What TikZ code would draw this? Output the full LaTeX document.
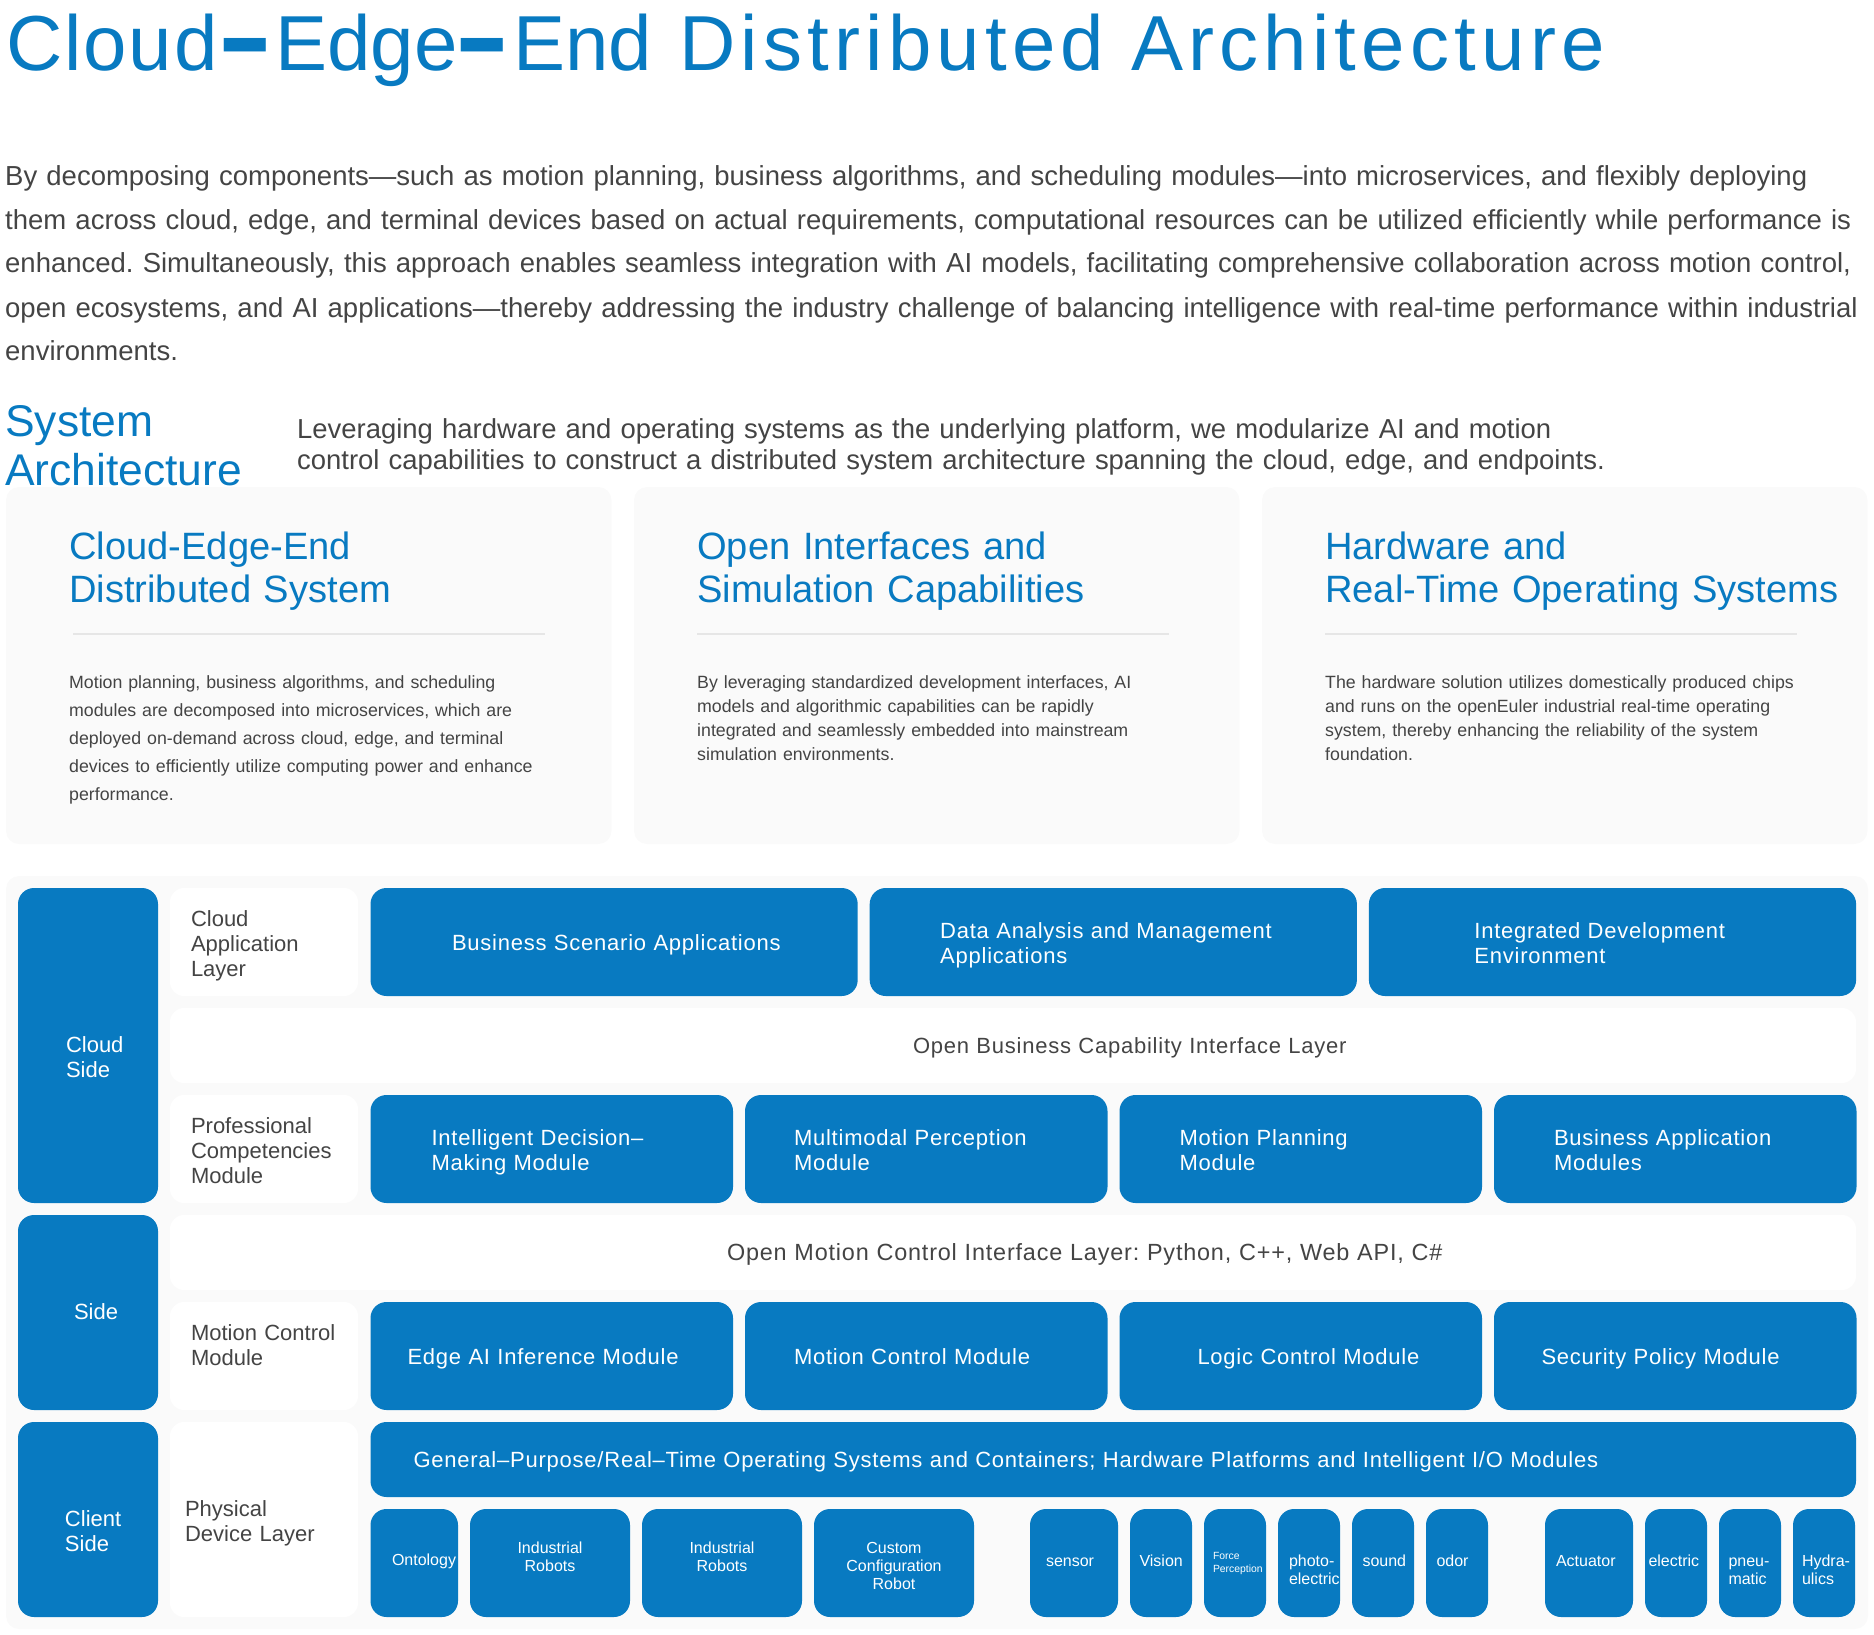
\documentclass[tikz,border=0pt]{standalone}
\usepackage{fontspec}
\setmainfont{Liberation Sans}
\newfontfamily\spacedfont[LetterSpace=6.7]{Liberation Sans}
\newfontfamily\closefont[LetterSpace=2.5]{Liberation Sans}
\newfontfamily\tierfont[LetterSpace=3.5]{Liberation Sans}
\newfontfamily\dashfont{DejaVu Sans}
\usetikzlibrary{positioning}
\AtBeginDocument{\frenchspacing}
\definecolor{tierblue}{HTML}{087AC1}
\definecolor{bodygrey}{HTML}{444444}
\definecolor{cardgrey}{HTML}{FAFAFA}
\definecolor{rulegrey}{HTML}{E6E6E6}
\newcommand{\titledash}{\raisebox{-3.5pt}{\dashfont\bfseries\fontsize{107}{107}\selectfont –}}
\tikzset{tx/.style 2 args={execute at begin node={\rule{0pt}{#1pt}},
execute at end node={\rule[-#2pt]{0pt}{#2pt}}}}
\tikzset{pad/.style={execute at begin node={\leftskip=#1pt\relax}}}
\tikzset{para/.style={anchor=base west,inner sep=0pt,text width=1868pt,align=left,text=bodygrey}}
\tikzset{card/.style={rectangle,fill=cardgrey,rounded corners=13pt,anchor=north west,outer sep=0pt,
inner sep=0pt,minimum height=357pt,minimum width=605.5pt}}
\tikzset{cardhead/.style={para,text width=560pt,text=tierblue,font=\fontsize{38.1}{43}\selectfont}}
\tikzset{cardtext/.style={para,text width=530pt,font=\fontsize{17.75}{28}\selectfont}}
\tikzset{cardrule/.style={draw=rulegrey,line width=1.6pt}}
\tikzset{tierlabel/.style={rectangle,fill=white,rounded corners=14pt,anchor=north west,inner sep=0pt,outer sep=0pt,
align=left,text=bodygrey,font=\fontsize{22}{25}\selectfont}}
\tikzset{tier/.style={tierlabel,fill=tierblue,text=white,rounded corners=16pt}}
\tikzset{sidebox/.style={tier,text width=140pt}}
\tikzset{leftbox/.style={tierlabel,text width=188pt}}
\tikzset{wide/.style={tierlabel,text width=1686pt,minimum height=75pt,font=\tierfont\fontsize{22}{25}\selectfont}}
\tikzset{top/.style={tier,text width=487.2pt,minimum height=108pt,font=\tierfont\fontsize{22}{25}\selectfont}}
\tikzset{mid/.style={tier,text width=362.5pt,minimum height=108pt,font=\tierfont\fontsize{22}{25}\selectfont}}
\tikzset{tiny/.style={tier,minimum height=108pt,font=\fontsize{16}{18}\selectfont}}
\tikzset{tinyc/.style={tiny,text width=160pt,align=center}}
\tikzset{tinys/.style={tiny,text width=62pt}}

\begin{document}
\begin{tikzpicture}[x=1pt,y=-1pt]
    \useasboundingbox (0,0) rectangle (1874,1635);

    \node[anchor=base west,inner sep=0pt,text=tierblue,font=\fontsize{78}{90}\selectfont] (title) at (6,71)
        {{\closefont Cloud}\hspace{1pt}\titledash\hspace{3pt}Edge\hspace{-1.5pt}\titledash\hspace{4pt}End\hspace{27pt}{\spacedfont Distributed Architecture}};
    \node[para,font=\fontsize{27.5}{44}\selectfont] (intro) at (5,185)
        {By decomposing components—such as motion planning, business algorithms, and scheduling modules—into microservices, and flexibly deploying\\
        them across cloud, edge, and terminal devices based on actual requirements, computational resources can be utilized efficiently while performance is\\
        enhanced. Simultaneously, this approach enables seamless integration with AI models, facilitating comprehensive collaboration across motion control,\\
        open ecosystems, and AI applications—thereby addressing the industry challenge of balancing intelligence with real-time performance within industrial\\
        environments.};
    \node[para,text width=280pt,text=tierblue,font=\fontsize{44.4}{49}\selectfont] (syshead) at (5,436) {System\\Architecture};
    \node[para,text width=1500pt,font=\fontsize{27.45}{31}\selectfont] (sysdesc) at (297,438.5)
        {Leveraging hardware and operating systems as the underlying platform, we modularize AI and motion\\
        control capabilities to construct a distributed system architecture spanning the cloud, edge, and endpoints.};

    % three cards
    \node[card] (cardA) at (6,487) {};
    \node[card] (cardB) [right=22.5pt of cardA] {};
    \node[card] (cardC) [right=22.5pt of cardB] {};
    \node[cardhead] (headA) at (69,559) {Cloud-Edge-End\\Distributed System};
    \node[cardhead] (headB) at (697,559) {Open Interfaces and\\Simulation Capabilities};
    \node[cardhead] (headC) at (1325,559) {Hardware and\\Real-Time Operating Systems};
    \draw[cardrule] (73,634) -- (545,634);
    \draw[cardrule] (697,634) -- (1169,634);
    \draw[cardrule] (1325,634) -- (1797,634);
    \node[cardtext] (textA) at (69,688) {Motion planning, business algorithms, and scheduling\\
        modules are decomposed into microservices, which are\\
        deployed on-demand across cloud, edge, and terminal\\
        devices to efficiently utilize computing power and enhance\\
        performance.};
    \node[cardtext,font=\fontsize{17.75}{24}\selectfont] (textB) at (697,688) {By leveraging standardized development interfaces, AI\\
        models and algorithmic capabilities can be rapidly\\
        integrated and seamlessly embedded into mainstream\\
        simulation environments.};
    \node[cardtext,font=\fontsize{17.75}{24}\selectfont] (textC) at (1325,688) {The hardware solution utilizes domestically produced chips\\
        and runs on the openEuler industrial real-time operating\\
        system, thereby enhancing the reliability of the system\\
        foundation.};

    % architecture panel
    \node[card,minimum width=1862pt,minimum height=753pt,fill=cardgrey] (panel) at (6,876) {};

    \node[sidebox,minimum height=315pt,tx={164}{126},pad=48] (cloudside) at (18,888) {Cloud\\Side};
    \node[sidebox,minimum height=195pt,tx={104}{91},pad=56] (edgeside) at (18,1215) {Side};
    \node[sidebox,minimum height=195pt,tx={104}{66},pad=47] (clientside) at (18,1422) {Client\\Side};

    \node[leftbox,minimum height=108pt,tx={38}{20},pad=21] (cloudlayer) at (170,888) {Cloud\\Application\\Layer};
    \node[top,tx={62}{46},pad=81.5] (bizscene) [right=12.5pt of cloudlayer] {Business Scenario Applications};
    \node[top,tx={50}{33},pad=70.5] (dataapp) [right=12pt of bizscene] {Data Analysis and Management\\Applications};
    \node[top,tx={50}{33},pad=105.5] (ideapp) [right=12pt of dataapp] {Integrated Development\\Environment};

    \node[wide,tx={45}{30},pad=743] (bizapi) at (170,1008) {Open Business Capability Interface Layer};

    \node[leftbox,minimum height=108pt,tx={38}{20},pad=21] (prolayer) at (170,1095) {Professional\\Competencies\\Module};
    \node[mid,tx={50}{33},pad=61] (decision) [right=12.5pt of prolayer] {Intelligent Decision–\\Making Module};
    \node[mid,tx={50}{33},pad=49] (percept) [right=12pt of decision] {Multimodal Perception\\Module};
    \node[mid,tx={50}{33},pad=60] (planning) [right=12pt of percept] {Motion Planning\\Module};
    \node[mid,tx={50}{33},pad=60] (bizmod) [right=12pt of planning] {Business Application\\Modules};

    \node[wide,tx={45}{30},pad=557,font=\tierfont\fontsize{23.4}{25}\selectfont] (motionapi) at (170,1215) {Open Motion Control Interface Layer: Python, C++, Web API, C\#};

    \node[leftbox,minimum height=108pt,tx={38}{45},pad=21] (motionlayer) at (170,1302) {Motion Control\\Module};
    \node[mid,tx={62}{46},pad=37] (edgeai) [right=12.5pt of motionlayer] {Edge AI Inference Module};
    \node[mid,tx={62}{46},pad=49] (motionctl) [right=12pt of edgeai] {Motion Control Module};
    \node[mid,tx={62}{46},pad=78] (logicctl) [right=12pt of motionctl] {Logic Control Module};
    \node[mid,tx={62}{46},pad=47.5] (security) [right=12pt of logicctl] {Security Policy Module};

    \node[leftbox,minimum height=195pt,tx={94}{76},pad=15] (devlayer) at (170,1422) {Physical\\Device Layer};
    \node[tier,text width=1485.5pt,minimum height=75pt,tx={45}{30},pad=43,font=\tierfont\fontsize{22}{25}\selectfont] (osbar) at (370.5,1422)
        {General–Purpose/Real–Time Operating Systems and Containers; Hardware Platforms and Intelligent I/O Modules};

    \node[tiny,text width=87.5pt,tx={56}{52},pad=21.5] (ontology) at (370.5,1509) {Ontology};
    \node[tinyc,tx={44}{46}] (robotA) [right=12pt of ontology] {Industrial\\Robots};
    \node[tinyc,tx={44}{46}] (robotB) [right=12pt of robotA] {Industrial\\Robots};
    \node[tinyc,tx={44}{28}] (robotC) [right=12pt of robotB] {Custom\\Configuration\\Robot};

    \node[tiny,text width=88pt,tx={57}{51},pad=16] (sensor) [right=56pt of robotC] {sensor};
    \node[tinys,tx={57}{51},pad=9.5] (vision) [right=12pt of sensor] {Vision};
    \node[tinys,tx={50}{45},pad=9,font=\fontsize{10.4}{13}\selectfont] (force) [right=12pt of vision] {Force\\Perception};
    \node[tinys,tx={57}{33},pad=11] (photo) [right=12pt of force] {photo-\\electric};
    \node[tinys,tx={57}{51},pad=10.5] (sound) [right=12pt of photo] {sound};
    \node[tinys,tx={57}{51},pad=10.5] (odor) [right=12pt of sound] {odor};

    \node[tiny,text width=88pt,tx={57}{51},pad=11] (actuator) [right=57pt of odor] {Actuator};
    \node[tinys,tx={57}{51},pad=3.5] (electric) [right=12pt of actuator] {electric};
    \node[tinys,tx={57}{33},pad=9.5] (pneu) [right=12pt of electric] {pneu-\\matic};
    \node[tinys,tx={57}{33},pad=9] (hydra) [right=12pt of pneu] {Hydra-\\ulics};

\end{tikzpicture}
\end{document}
